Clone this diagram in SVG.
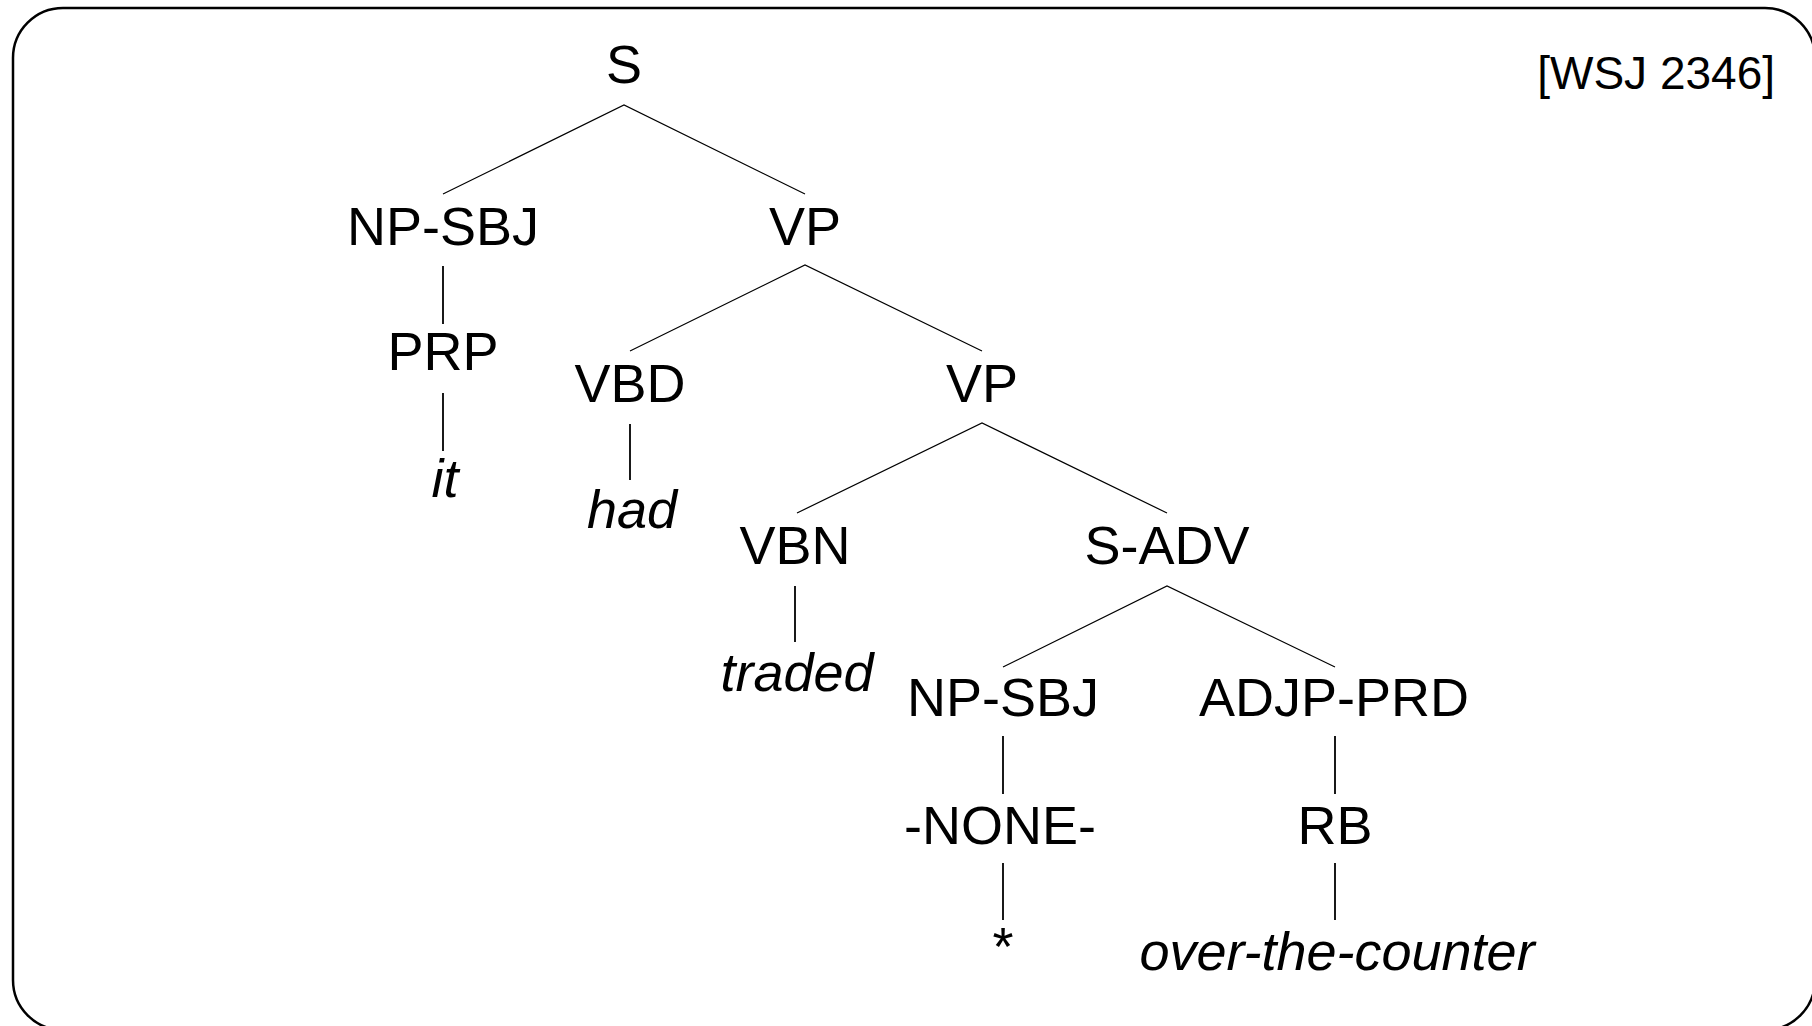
<svg xmlns="http://www.w3.org/2000/svg" width="1812" height="1026" viewBox="0 0 1812 1026">
<style>
text{font-family:"Liberation Sans",Arial,sans-serif;font-size:54px;fill:#000;text-anchor:middle}
.w{font-style:italic}
.tag{font-size:46px;text-anchor:end}
.e{stroke:#000;stroke-width:1.2;fill:none}
.v{stroke:#000;stroke-width:1.8;fill:none}
</style>
<rect x="0" y="0" width="1812" height="1026" fill="#fff"/>
<rect x="13" y="8" width="1802" height="1022" rx="50" ry="50" fill="none" stroke="#000" stroke-width="2.5"/>
<text class="tag" x="1775" y="89">[WSJ 2346]</text>
<g id="connectors">
<path class="e" d="M443 194 L624 105 L805 194"/>
<path class="e" d="M630 351 L805 265 L982 351"/>
<path class="e" d="M797 513 L982 423 L1167 513"/>
<path class="e" d="M1003 667 L1167 586 L1335 667"/>
<line class="v" x1="443" y1="266" x2="443" y2="324"/>
<line class="v" x1="443" y1="393" x2="443" y2="451"/>
<line class="v" x1="630" y1="424" x2="630" y2="480"/>
<line class="v" x1="795" y1="586" x2="795" y2="642"/>
<line class="v" x1="1003" y1="736" x2="1003" y2="794"/>
<line class="v" x1="1003" y1="863" x2="1003" y2="920"/>
<line class="v" x1="1335" y1="736" x2="1335" y2="794"/>
<line class="v" x1="1335" y1="863" x2="1335" y2="920"/>
</g>
<g id="n-S"><text x="624" y="83">S</text></g>
<g id="n-NPSBJ1"><text x="443" y="245">NP-SBJ</text></g>
<g id="n-VP1"><text x="805" y="245">VP</text></g>
<g id="n-PRP"><text x="443" y="370">PRP</text></g>
<g id="n-it"><text class="w" x="445" y="497">it</text></g>
<g id="n-VBD"><text x="630" y="402">VBD</text></g>
<g id="n-had"><text class="w" x="632" y="528">had</text></g>
<g id="n-VP2"><text x="982" y="402">VP</text></g>
<g id="n-VBN"><text x="795" y="564">VBN</text></g>
<g id="n-traded"><text class="w" x="797" y="691">traded</text></g>
<g id="n-SADV"><text x="1167" y="564">S-ADV</text></g>
<g id="n-NPSBJ2"><text x="1003" y="716">NP-SBJ</text></g>
<g id="n-ADJPPRD"><text x="1334" y="716">ADJP-PRD</text></g>
<g id="n-NONE"><text x="1000" y="844">-NONE-</text></g>
<g id="n-RB"><text x="1335" y="844">RB</text></g>
<g id="n-star"><text x="1003" y="965">*</text></g>
<g id="n-otc"><text class="w" x="1337" y="970">over-the-counter</text></g>
</svg>
